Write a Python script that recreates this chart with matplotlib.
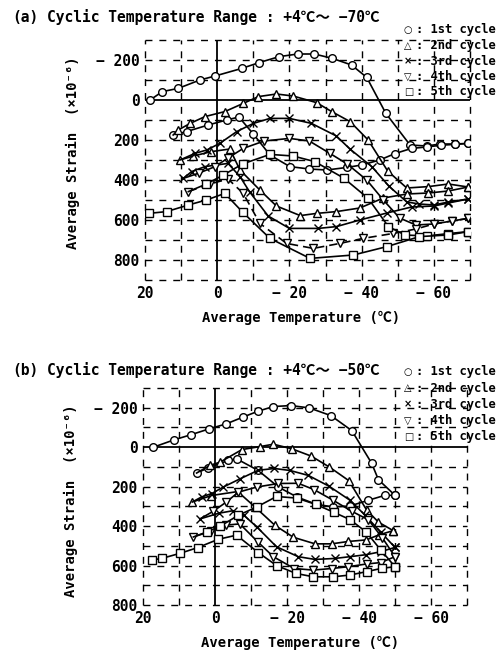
import matplotlib
matplotlib.use("Agg")
import matplotlib.pyplot as plt

FONT = ['DejaVu Sans Mono', 'Noto Sans CJK JP', 'DejaVu Sans']
plt.rcParams['font.family'] = FONT
plt.rcParams['font.weight'] = 'bold'

# ---------------- data : panel (a)  +4C ~ -70C ----------------
a1_cool_T = [18.6, 15.2, 10.8, 4.8, 0.6, -6.8, -11.6, -17.2, -22.3, -26.9, -31.9, -37.2, -41.4, -46.7, -53.4, -58.0, -61.7, -65.8, -69.5]
a1_cool_S = [0, -42, -58, -100, -120, -158, -187, -217, -230, -230, -208, -175, -113, 67, 225, 230, 220, 220, 217]
a1_heat_T = [-69.5, -65.8, -62.0, -58.0, -53.8, -49.2, -45.0, -40.0, -36.0, -30.3, -25.5, -20.1, -14.6, -10.0, -6.0, -2.6, 2.5, 8.5, 12.2]
a1_heat_S = [217, 222, 226, 235, 242, 268, 300, 325, 337, 350, 345, 333, 275, 170, 85, 100, 125, 158, 175]

a2_cool_T = [12.2, 10.8, 7.5, 3.4, -2.1, -7.2, -11.4, -16.4, -21.0, -27.5, -31.7, -36.8, -41.8, -47.2, -52.5, -58.5, -64.0, -69.5]
a2_cool_S = [175, 150, 117, 83, 58, 17, -17, -30, -20, 13, 58, 108, 200, 355, 440, 433, 420, 435]
a2_heat_T = [-69.5, -64.0, -58.5, -52.5, -46.0, -39.5, -33.0, -27.5, -23.0, -16.4, -11.8, -6.3, -3.5, 1.6, 6.6, 10.3]
a2_heat_S = [435, 455, 465, 470, 490, 540, 558, 567, 578, 530, 450, 350, 245, 258, 280, 300]

a3_cool_T = [10.3, 6.2, 2.9, -0.7, -5.4, -10.0, -14.6, -20.0, -26.1, -33.0, -36.8, -42.8, -47.5, -52.5, -56.0, -60.0, -64.0, -69.5]
a3_cool_S = [300, 267, 250, 217, 158, 117, 92, 92, 117, 180, 246, 333, 430, 510, 520, 525, 510, 495]
a3_heat_T = [-69.5, -64.0, -60.0, -53.8, -47.0, -39.5, -33.0, -28.0, -20.0, -14.1, -9.0, -6.3, -3.0, 3.4, 7.1, 9.4]
a3_heat_S = [495, 515, 530, 535, 565, 600, 633, 642, 642, 580, 460, 383, 317, 333, 358, 392]

a4_cool_T = [9.4, 5.0, 0.6, -3.0, -7.2, -13.0, -20.0, -25.5, -31.2, -36.0, -41.4, -46.0, -50.5, -55.0, -60.0, -65.0, -69.5]
a4_cool_S = [392, 365, 333, 290, 242, 205, 192, 205, 267, 320, 400, 500, 590, 625, 620, 605, 592]
a4_heat_T = [-69.5, -65.0, -60.0, -55.0, -48.8, -40.4, -34.0, -26.6, -19.2, -11.8, -7.2, -3.0, 2.0, 8.0]
a4_heat_S = [592, 605, 620, 645, 667, 692, 717, 742, 717, 617, 467, 395, 420, 458]

a5_cool_T = [8.0, 3.0, -1.7, -7.0, -14.6, -21.0, -27.0, -35.0, -41.8, -47.4, -52.0, -58.0, -64.0, -69.5]
a5_cool_S = [458, 420, 375, 320, 272, 280, 308, 390, 492, 633, 675, 680, 668, 658]
a5_heat_T = [-69.5, -64.0, -56.0, -47.0, -37.7, -25.7, -14.6, -7.0, -2.1, 3.0, 8.0, 14.0, 19.0]
a5_heat_S = [658, 675, 683, 733, 775, 792, 692, 560, 467, 500, 525, 558, 567]

# ---------------- data : panel (b)  +4C ~ -50C ----------------
b1_cool_T = [17.1, 11.4, 6.7, 1.6, -3.1, -7.7, -11.9, -16.2, -21.1, -26.2, -32.2, -38.0, -43.5, -45.4, -50.0]
b1_cool_S = [0, -37, -63, -93, -118, -152, -182, -206, -211, -199, -160, -84, 81, 165, 244]
b1_heat_T = [-50.0, -47.2, -42.6, -37.5, -32.9, -28.2, -22.7, -17.6, -12.0, -6.0, -3.7, 1.9, 5.1]
b1_heat_S = [244, 244, 269, 298, 303, 290, 252, 202, 118, 59, 67, 105, 131]

b2_cool_T = [5.1, 1.4, -1.4, -7.5, -12.5, -16.2, -21.3, -26.7, -31.8, -37.2, -42.1, -45.4, -49.5]
b2_cool_S = [131, 92, 76, 12, -3, -15, 8, 45, 101, 170, 318, 380, 423]
b2_heat_T = [-49.5, -45.5, -42.0, -37.0, -32.4, -27.8, -21.8, -16.7, -11.1, -6.3, 1.0, 6.3]
b2_heat_S = [423, 445, 470, 478, 490, 490, 457, 397, 303, 225, 245, 278]

b3_cool_T = [6.3, 3.7, 0.9, -2.3, -7.0, -12.0, -16.5, -20.8, -25.9, -31.7, -37.5, -41.7, -46.0, -50.0]
b3_cool_S = [278, 252, 235, 202, 160, 117, 108, 118, 143, 198, 269, 345, 430, 508]
b3_heat_T = [-50.0, -46.0, -42.0, -37.5, -33.3, -27.8, -23.1, -17.1, -11.6, -8.0, -5.0, -1.0, 4.2]
b3_heat_S = [508, 530, 545, 555, 564, 569, 555, 505, 404, 345, 322, 335, 364]

b4_cool_T = [4.2, 0.5, -3.0, -6.5, -11.6, -17.6, -23.1, -27.5, -32.9, -38.0, -42.6, -46.5, -50.0]
b4_cool_S = [364, 325, 280, 228, 202, 184, 183, 215, 270, 325, 368, 460, 555]
b4_heat_T = [-50.0, -46.0, -42.1, -37.0, -32.4, -27.3, -22.0, -16.2, -12.0, -6.9, -3.0, 1.0, 6.0]
b4_heat_S = [555, 585, 592, 606, 615, 623, 615, 555, 482, 389, 395, 425, 455]

b5_cool_T = [6.0, 2.3, -1.5, -6.5, -11.6, -17.1, -22.7, -28.0, -33.0, -37.5, -42.0, -46.0, -50.0]
b5_cool_S = [455, 430, 400, 345, 303, 250, 258, 290, 330, 367, 430, 520, 606]
b5_heat_T = [-50.0, -46.3, -42.1, -37.5, -32.9, -27.3, -22.5, -17.1, -12.0, -6.0, -0.9, 4.8, 9.7, 14.8, 17.6]
b5_heat_S = [606, 614, 631, 648, 657, 657, 640, 600, 534, 446, 467, 509, 538, 564, 572]

cycle_markers = ['o', '^', 'x', 'v', 's']
cycle_labels = ['1st cycle', '2nd cycle', '3rd cycle', '4th cycle', '5th cycle']
legend_symbols = ['○', '△', '×', '▽', '□']
x_ticks = [20, 0, -20, -40, -60]
x_ticklabels = ['20', '0', '− 20', '− 40', '− 60']
y_ticks = [-200, 0, 200, 400, 600, 800]
y_ticklabels = ['− 200', '0', '200', '400', '600', '800']

panel_a = [(a1_cool_T, a1_cool_S, a1_heat_T, a1_heat_S),
           (a2_cool_T, a2_cool_S, a2_heat_T, a2_heat_S),
           (a3_cool_T, a3_cool_S, a3_heat_T, a3_heat_S),
           (a4_cool_T, a4_cool_S, a4_heat_T, a4_heat_S),
           (a5_cool_T, a5_cool_S, a5_heat_T, a5_heat_S)]
panel_b = [(b1_cool_T, b1_cool_S, b1_heat_T, b1_heat_S),
           (b2_cool_T, b2_cool_S, b2_heat_T, b2_heat_S),
           (b3_cool_T, b3_cool_S, b3_heat_T, b3_heat_S),
           (b4_cool_T, b4_cool_S, b4_heat_T, b4_heat_S),
           (b5_cool_T, b5_cool_S, b5_heat_T, b5_heat_S)]

W, H = 500, 653
fig = plt.figure(figsize=(W / 100, H / 100), dpi=100)


def px(x, y):
    return x / W, 1 - y / H


def setup(ax, ymax):
    ax.set_xlim(20, -70)
    ax.set_ylim(ymax, -300)
    for s in ax.spines.values():
        s.set_visible(False)
    for gx in range(20, -71, -10):
        if gx == 0:
            ax.axvline(gx, color='black', lw=1.3, zorder=1)
        else:
            ax.axvline(gx, color='black', lw=1.0, ls=(0, (5, 5)), zorder=1, clip_on=False)
    for gy in range(-300, ymax + 1, 100):
        if gy == 0:
            ax.axhline(gy, color='black', lw=1.3, zorder=1)
        else:
            ax.axhline(gy, color='black', lw=1.0, ls=(0, (5, 5)), zorder=1, clip_on=False)
    ax.set_xticks(x_ticks)
    ax.set_xticklabels(x_ticklabels)
    ax.set_yticks(y_ticks)
    ax.set_yticklabels(y_ticklabels)
    ax.tick_params(length=0, labelsize=10.5, pad=4)
    for lab in ax.get_xticklabels() + ax.get_yticklabels():
        lab.set_fontweight('bold')
    ax.set_xlabel('Average Temperature (℃)', fontsize=10, fontweight='bold')
    ax.set_ylabel('Average Strain  (×10⁻⁶)', fontsize=10, fontweight='bold')


def draw(ax, data, dashed_heat=None):
    for i, (ct, cs, ht, hs) in enumerate(data):
        m = cycle_markers[i]
        kw = dict(color='black', marker=m, markersize=5.5 if m != 'x' else 6,
                  markerfacecolor='white', markeredgecolor='black', markeredgewidth=1.0,
                  lw=1.2, zorder=3)
        me = slice(1, None) if i > 0 else None
        ax.plot(ct, cs, markevery=me, **kw)
        ls = (0, (5, 3)) if dashed_heat == i else '-'
        ax.plot(ht, hs, ls=ls, **kw)


axA = fig.add_axes([145 / W, 1 - 280 / H, 325 / W, 240 / H])
setup(axA, 900)
draw(axA, panel_a, dashed_heat=3)
axA.yaxis.set_label_coords(-0.2, 0.53)
axA.xaxis.set_label_coords(0.48, -0.13)

axB = fig.add_axes([143 / W, 1 - 605 / H, 324 / W, 217 / H])
setup(axB, 800)
draw(axB, panel_b)
axB.yaxis.set_label_coords(-0.2, 0.48)
axB.xaxis.set_label_coords(0.485, -0.14)


def header(tag, text, y, leg_y0, leg_dy):
    fig.text(*px(12, y), tag, fontsize=10.5, fontweight='bold', va='center', ha='left')
    fig.text(*px(47, y), text, fontsize=10.5, fontweight='bold', va='center', ha='left')
    for k in range(5):
        yy = leg_y0 + k * leg_dy
        fig.text(*px(404, yy), legend_symbols[k], fontsize=7, va='center', ha='left',
                 family=['DejaVu Sans'])
        fig.text(*px(416, yy), ': ' + cycle_labels[k], fontsize=8.7, fontweight='bold',
                 va='center', ha='left')


header('(a)', 'Cyclic Temperature Range : +4℃～ −70℃', 17, 30, 15.5)
header('(b)', 'Cyclic Temperature Range : +4℃～ −50℃', 370, 372, 16.2)

fig.savefig('out.png', dpi=100)
